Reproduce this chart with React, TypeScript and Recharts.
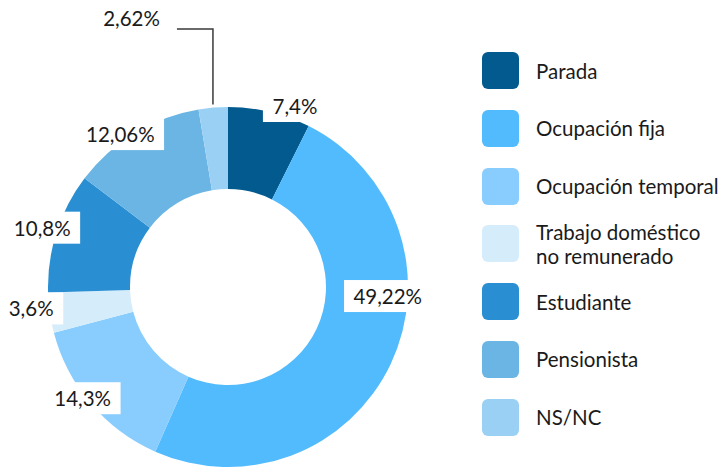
import React from 'react';
import { PieChart, Pie, Cell, Legend } from 'recharts';

// Situación laboral (%)
const categories = [
  'Parada',
  'Ocupación fija',
  'Ocupación temporal',
  'Trabajo doméstico no remunerado',
  'Estudiante',
  'Pensionista',
  'NS/NC',
];
const values = [7.4, 49.22, 14.3, 3.6, 10.8, 12.06, 2.62];
const colors = ['#035a8f', '#52bbfd', '#88cdfd', '#d5ecfb', '#2a8fd2', '#6bb5e5', '#9bd0f5'];
const legendLines = [
  ['Parada'],
  ['Ocupación fija'],
  ['Ocupación temporal'],
  ['Trabajo doméstico', 'no remunerado'],
  ['Estudiante'],
  ['Pensionista'],
  ['NS/NC'],
];

const data = categories.map((name, i) => ({ name, value: values[i] }));

const FONT = 'Lato, "Open Sans", sans-serif';
const RADIAN = Math.PI / 180;

// small label placement tweaks (angle shift in degrees, radius)
const labelTweak: Record<string, { da: number; r: number }> = {
  Parada: { da: -7, r: 193 },
  'Ocupación fija': { da: 22, r: 160 },
  'Ocupación temporal': { da: -3, r: 183 },
  'Trabajo doméstico no remunerado': { da: -2, r: 198 },
  Estudiante: { da: 0, r: 195 },
  Pensionista: { da: 4, r: 187 },
};

const fmt = (v: number) => `${String(v).replace('.', ',')}%`;

// rough text width for Lato 20px
const textWidth = (s: string) =>
  s.split('').reduce((w, c) => w + (c === ',' ? 5 : c === '%' ? 16 : 11.6), 0);

const renderLabel = (props: any) => {
  const { cx, cy, midAngle, outerRadius, value, name } = props;
  const text = fmt(value);

  if (name === 'NS/NC') {
    const r = outerRadius + 3;
    const x0 = cx + r * Math.cos(-midAngle * RADIAN);
    const y0 = cy + r * Math.sin(-midAngle * RADIAN);
    const yTop = cy - 258;
    const xEnd = x0 - 36;
    return (
      <g>
        <polyline
          points={`${x0},${y0} ${x0},${yTop} ${xEnd},${yTop}`}
          fill="none"
          stroke="#3a3a3a"
          strokeWidth={1.5}
        />
        <text x={xEnd - 17} y={yTop - 3} textAnchor="end" fill="#1a1a1a" fontSize={20.5} fontFamily={FONT}>
          {text}
        </text>
      </g>
    );
  }

  const tw = labelTweak[name] || { da: 0, r: 190 };
  const a = midAngle + tw.da;
  const x = cx + tw.r * Math.cos(-a * RADIAN);
  const y = cy + tw.r * Math.sin(-a * RADIAN);
  const w = textWidth(text) + 20;
  const h = 32;
  return (
    <g>
      <rect x={x - w / 2} y={y - h / 2} width={w} height={h} fill="#ffffff" />
      <text
        x={x}
        y={y}
        textAnchor="middle"
        dominantBaseline="central"
        fill="#1a1a1a"
        fontSize={20.5}
        fontFamily={FONT}
      >
        {text}
      </text>
    </g>
  );
};

const LegendBox = () => (
  <div style={{ fontFamily: FONT, fontSize: 20.5, color: '#1a1a1a' }}>
    {legendLines.map((lines, i) => (
      <div
        key={i}
        style={{ display: 'flex', alignItems: 'center', height: 37, marginBottom: i < legendLines.length - 1 ? 20.8 : 0 }}
      >
        <div style={{ width: 37, height: 37, borderRadius: 6, background: colors[i], flexShrink: 0 }} />
        <div style={{ marginLeft: 17, lineHeight: '24px', whiteSpace: 'nowrap' }}>
          {lines.map((l, j) => (
            <div key={j}>{l}</div>
          ))}
        </div>
      </div>
    ))}
  </div>
);

export default function App() {
  return (
    <div style={{ position: 'absolute', left: 0, top: 0, width: 725, height: 467, background: '#ffffff' }}>
      <PieChart width={725} height={467} margin={{ top: 0, right: 0, bottom: 0, left: 0 }}>
        <Pie
          data={data}
          dataKey="value"
          nameKey="name"
          cx={228}
          cy={287}
          innerRadius={98}
          outerRadius={180}
          startAngle={90}
          endAngle={-270}
          stroke="none"
          label={renderLabel}
          labelLine={false}
          isAnimationActive={false}
        >
          {data.map((d, i) => (
            <Cell key={d.name} fill={colors[i]} />
          ))}
        </Pie>
        <Legend
          layout="vertical"
          content={() => <LegendBox />}
          wrapperStyle={{ position: 'absolute', left: 482, top: 52, width: 240 }}
        />
      </PieChart>
    </div>
  );
}
